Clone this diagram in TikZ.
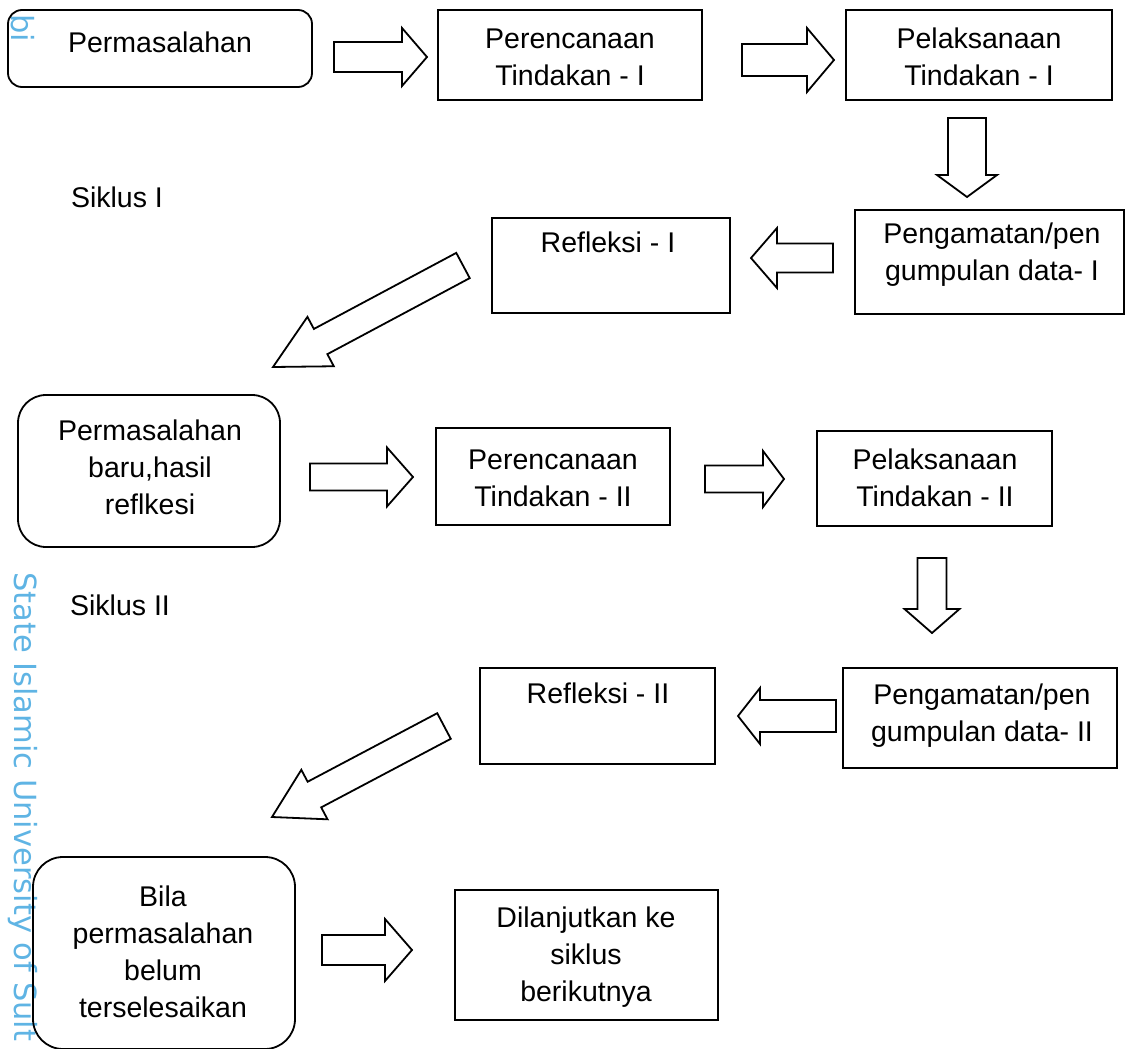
\documentclass[tikz,border=0pt]{standalone}
\usepackage{fontspec}
\setmainfont{Liberation Sans}
\newfontfamily\wmfont{DejaVu Sans}
\usetikzlibrary{calc}
\definecolor{wm}{RGB}{95,180,228}
\tikzset{
  box/.style={draw, line width=1.8pt, inner sep=0pt, outer sep=0pt},
  rbox/.style={box, rounded corners=#1},
  txt/.style={align=center, font=\fontsize{28.5}{37}\selectfont, inner sep=0pt},
  fat/.style={draw, line width=1.8pt, line join=miter, fill=white},
  wmtxt/.style={text=wm, font=\wmfont\fontsize{30.5}{36}\selectfont, rotate=-90, anchor=west, inner sep=0pt},
}
\newcommand{\mkbox}[6]{%
  \pgfmathsetmacro\mkW{#4-#2}\pgfmathsetmacro\mkH{#5-#3}%
  \pgfmathsetmacro\mkX{(#2+#4)/2}\pgfmathsetmacro\mkY{(#3+#5)/2}%
  \node[#6, minimum width=\mkW pt, minimum height=\mkH pt] (#1) at (\mkX,\mkY) {};}
\newcommand{\fatarrow}[5]{% tail, tip, shaft half width, head half width, head length
  \coordinate (fah) at ($(#2)!#5pt!(#1)$);
  \draw[fat] ($(#1)!#3pt!90:(#2)$) -- ($(fah)!#3pt!90:(#2)$) -- ($(fah)!#4pt!90:(#2)$) -- (#2)
    -- ($(fah)!#4pt!-90:(#2)$) -- ($(fah)!#3pt!-90:(#2)$) -- ($(#1)!#3pt!-90:(#2)$) -- cycle;}
\begin{document}
\begin{tikzpicture}[x=1pt,y=-1pt]
\useasboundingbox (0,0) rectangle (1136,1049);
\clip (0,0) rectangle (1136,1049);
% watermark
\node[wmtxt] (wm1) at (23,572) {State Islamic University of Sult};
\node[wmtxt] (wm2) at (23,14) {bi};
% boxes
\mkbox{b1}{8}{10}{312}{87}{rbox=14pt}
\mkbox{b2}{438}{10}{702}{100}{box}
\mkbox{b3}{846}{10}{1112}{100}{box}
\mkbox{b4}{855}{210}{1124}{314}{box}
\mkbox{b5}{492}{218}{730}{313}{box}
\mkbox{b6}{18}{395}{280}{547}{rbox=28pt}
\mkbox{b7}{436}{428}{670}{525}{box}
\mkbox{b8}{817}{431}{1052}{526}{box}
\mkbox{b9}{843}{668}{1117}{768}{box}
\mkbox{b10}{480}{668}{715}{764}{box}
\mkbox{b11}{33}{857}{295}{1049}{rbox=30pt}
\mkbox{b12}{455}{890}{718}{1020}{box}
% texts
\node[txt] (t1) at (160,42) {Permasalahan};
\node[txt] (t2) at (570,57) {Perencanaan\\Tindakan - I};
\node[txt] (t3) at (979,57) {Pelaksanaan\\Tindakan - I};
\node[txt] (t4) at (992,255) {Pengamatan/pen\\gumpulan data- I};
\node[txt] (t5) at (608,242) {Refleksi - I};
\node[txt] (t6) at (117,197) {Siklus I};
\node[txt] (t7) at (150,467) {Permasalahan\\baru,hasil\\reflkesi};
\node[txt] (t8) at (553,478) {Perencanaan\\Tindakan - II};
\node[txt] (t9) at (935,478) {Pelaksanaan\\Tindakan - II};
\node[txt] (t10) at (120,605) {Siklus II};
\node[txt] (t11) at (982,716) {Pengamatan/pen\\gumpulan data- II};
\node[txt] (t12) at (598,693) {Refleksi - II};
\node[txt] (t13) at (163,952) {Bila\\permasalahan\\belum\\terselesaikan};
\node[txt] (t14) at (586,957) {Dilanjutkan ke\\siklus\\berikutnya};
% arrow end points
\coordinate (a1s) at (334,57);   \coordinate (a1e) at (427,57);
\coordinate (a2s) at (742,60);   \coordinate (a2e) at (834,60);
\coordinate (d1s) at (967,118);  \coordinate (d1e) at (967,197);
\coordinate (l1s) at (833,258);  \coordinate (l1e) at (751,258);
\coordinate (g1s) at (463,265.5); \coordinate (g1e) at (273,367);
\coordinate (a3s) at (310,477);  \coordinate (a3e) at (413,477);
\coordinate (a4s) at (705,479);  \coordinate (a4e) at (784,479);
\coordinate (d2s) at (932,558);  \coordinate (d2e) at (932,633);
\coordinate (l2s) at (836,716);  \coordinate (l2e) at (738,716);
\coordinate (g2s) at (444,726);  \coordinate (g2e) at (272,817);
\coordinate (a5s) at (322,950);  \coordinate (a5e) at (412,950);
% block arrows
\fatarrow{a1s}{a1e}{15}{29}{25}
\fatarrow{a2s}{a2e}{16}{32}{27}
\fatarrow{d1s}{d1e}{19}{30}{22}
\fatarrow{l1s}{l1e}{14.5}{30}{26}
\fatarrow{g1s}{g1e}{14.3}{28}{54}
\fatarrow{a3s}{a3e}{13.5}{29.5}{26}
\fatarrow{a4s}{a4e}{13.5}{28}{21}
\fatarrow{d2s}{d2e}{14.5}{27.5}{24}
\fatarrow{l2s}{l2e}{16}{28}{22}
\fatarrow{g2s}{g2e}{14.5}{28}{48}
\fatarrow{a5s}{a5e}{15}{31}{27}
\end{tikzpicture}
\end{document}
